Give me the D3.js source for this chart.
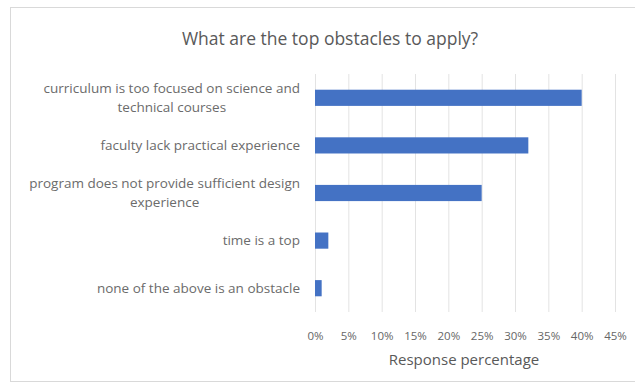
<!DOCTYPE html>
<html><head><meta charset="utf-8">
<script src="https://cdn.jsdelivr.net/npm/d3@7"></script>
<style>body{margin:0;background:#fff;} svg{display:block;font-family:"Open Sans",sans-serif;}</style>
</head><body>
<svg id="c" width="635" height="385"></svg>
<script>
const categories = [
  ["curriculum is too focused on science and", "technical courses"],
  ["faculty lack practical experience"],
  ["program does not provide sufficient design", "experience"],
  ["time is a top"],
  ["none of the above is an obstacle"]
];
const values = [40, 32, 25, 2, 1];
const tickValues = [0, 5, 10, 15, 20, 25, 30, 35, 40, 45];
const title = "What are the top obstacles to apply?";
const xTitle = "Response percentage";

const svg = d3.select("#c");
svg.append("rect").attr("x", 10.5).attr("y", 7.5).attr("width", 640).attr("height", 374)
  .attr("fill", "#fff").attr("stroke", "#d9d9d9");

const x = d3.scaleLinear().domain([0, 45]).range([315, 615]);
const y = d3.scaleBand().domain(d3.range(categories.length)).range([74, 312]).paddingInner(0.66).paddingOuter(0.33);

svg.append("text").attr("x", 330).attr("y", 45).attr("text-anchor", "middle")
  .attr("font-size", 17.5).attr("fill", "#595959").text(title);

const gx = svg.append("g").attr("transform", "translate(0,312)")
  .call(d3.axisBottom(x).tickValues(tickValues).tickSize(-238).tickFormat(d => d + "%"));
gx.select(".domain").remove();
gx.selectAll(".tick line").attr("stroke", "#e3e3e3");
gx.selectAll(".tick text").attr("font-size", 11.5).attr("fill", "#666").attr("y", 20).attr("dy", "0.71em")
  .attr("font-family", "Open Sans");

svg.selectAll("rect.bar").data(values).join("rect").attr("class", "bar")
  .attr("x", x(0)).attr("y", (d, i) => y(i)).attr("width", d => x(d) - x(0))
  .attr("height", y.bandwidth()).attr("fill", "#4472C4");

const labels = svg.selectAll("text.cat").data(categories).join("text").attr("class", "cat")
  .attr("text-anchor", "end").attr("font-size", 13.5).attr("fill", "#6b6b6b")
  .attr("transform", (d, i) => `translate(300,${y(i) + y.bandwidth() / 2})`);
labels.each(function(lines) {
  const t = d3.select(this);
  const n = lines.length;
  lines.forEach((l, k) => {
    t.append("tspan").attr("x", 0).attr("y", (k - (n - 1) / 2) * 19 + 4.5)
      .attr("text-anchor", n > 1 && k > 0 ? "middle" : "end")
      .text(l);
  });
});
labels.each(function(lines) {
  if (lines.length > 1) {
    const tsp = d3.select(this).selectAll("tspan");
    const w = tsp.nodes()[0].getComputedTextLength();
    d3.select(tsp.nodes()[1]).attr("x", -w / 2);
  }
});

svg.append("text").attr("x", 464).attr("y", 365).attr("text-anchor", "middle")
  .attr("font-size", 15).attr("fill", "#595959").text(xTitle);
</script>
</body></html>
